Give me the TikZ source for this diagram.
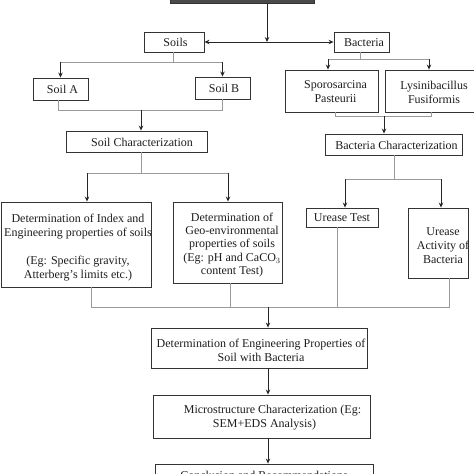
\documentclass[tikz,border=0pt]{standalone}
\usepackage{fontspec}
\setmainfont{Liberation Serif}
\usetikzlibrary{arrows.meta}
\definecolor{boxc}{HTML}{333333}
\definecolor{connc}{HTML}{9A9A9A}
\definecolor{textc}{HTML}{1E1E1E}
\definecolor{topc}{HTML}{4A4A4A}
\tikzset{
  box/.style={draw=boxc, line width=0.9pt, inner sep=0pt, fill=white},
  txt/.style={align=center, inner sep=0pt, text=textc, font=\fontsize{12}{14}\selectfont},
  conn/.style={draw=connc, line width=0.8pt},
  arr/.style={draw=black!85, line width=0.9pt, -{Stealth[length=5pt,width=4.5pt]}},
  darr/.style={draw=black!85, line width=0.9pt, {Stealth[length=5pt,width=4.5pt]}-{Stealth[length=5pt,width=4.5pt]}}
}
\begin{document}
\begin{tikzpicture}[x=1pt,y=-1pt]
\useasboundingbox (0,0) rectangle (474,474);
% boxes
\node[box, fill=topc, minimum width=144pt, minimum height=26pt] (top) at (242,-10) {};
\node[box, minimum width=60pt, minimum height=20pt] (soils) at (174,42) {};
\node[box, minimum width=55pt, minimum height=20pt] (bacteria) at (361.5,42) {};
\node[box, minimum width=55pt, minimum height=22pt] (soilA) at (60.5,89) {};
\node[box, minimum width=55pt, minimum height=22pt] (soilB) at (222.5,88) {};
\node[box, minimum width=93pt, minimum height=42pt] (spor) at (331.5,91) {};
\node[box, minimum width=91pt, minimum height=42pt] (lysin) at (430.5,91) {};
\node[box, minimum width=141pt, minimum height=21pt] (soilchar) at (136.5,141.5) {};
\node[box, minimum width=137pt, minimum height=21pt] (bactchar) at (393.5,144.5) {};
\node[box, minimum width=150pt, minimum height=85pt] (index) at (76,244.5) {};
\node[box, minimum width=109pt, minimum height=81pt] (geo) at (227.5,242.5) {};
\node[box, minimum width=72pt, minimum height=19pt] (urease) at (342,217.5) {};
\node[box, minimum width=60pt, minimum height=70pt] (ureact) at (438,243) {};
\node[box, minimum width=216pt, minimum height=40pt] (eng) at (259,348) {};
\node[box, minimum width=217pt, minimum height=43pt] (micro) at (261.5,416.5) {};
\node[box, minimum width=218pt, minimum height=40pt] (concl) at (264,484) {};
% texts
\node[txt] (soilsT) at (175.5,42.5) {Soils};
\node[txt] (bacteriaT) at (364,43) {Bacteria};
\node[txt] (soilAT) at (62.5,89.5) {Soil A};
\node[txt] (soilBT) at (224,88.5) {Soil B};
\node[txt] (sporT) at (335.5,92) {Sporosarcina\\Pasteurii};
\node[txt] (lysinT) at (434,92) {Lysinibacillus\\Fusiformis};
\node[txt] (soilcharT) at (142,142) {Soil Characterization};
\node[txt] (bactcharT) at (396.5,145) {Bacteria Characterization};
\node[txt] (indexT) at (78,248) {Determination of Index and\\Engineering properties of soils\\[14pt](Eg: Specific gravity,\\Atterberg's limits etc.)};
\node[txt, font=\fontsize{12}{13.3}\selectfont] (geoT) at (232,245) {Determination of\\Geo-environmental\\properties of soils\\(Eg: pH and CaCO$_3$\\content Test)};
\node[txt] (ureaseT) at (342,218) {Urease Test};
\node[txt] (ureactT) at (443,246) {Urease\\Activity of\\Bacteria};
\node[txt] (engT) at (261,350) {Determination of Engineering Properties of\\Soil with Bacteria};
\node[txt] (microT) at (264.5,418) {\hspace*{16pt}Microstructure Characterization (Eg:\\SEM+EDS Analysis)};
\node[txt, anchor=north] (conclT) at (264,471) {Conclusion and Recommendations};
% connectors
\coordinate (j1) at (267,42);
\draw[arr] (top.south -| j1) -- (j1);
\draw[darr] (soils.east) -- (bacteria.west);
% soils split
\coordinate (s1) at (173,62);
\draw[conn] (soils.south -| s1) -- (s1);
\draw[conn] (soilA.north |- s1) -- (soilB.north |- s1);
\draw[arr] (soilA.north |- s1) -- (soilA.north);
\draw[arr] (soilB.north |- s1) -- (soilB.north);
% soil A/B merge
\coordinate (s2) at (141,110);
\coordinate (s2a) at (58,110);
\draw[conn] (soilA.south -| s2a) -- (s2a) -- (soilB.south |- s2) -- (soilB.south);
\draw[arr] (s2) -- (soilchar.north -| s2);
% bacteria split
\coordinate (b1) at (360,59);
\coordinate (b1a) at (328,59);
\coordinate (b1b) at (429,59);
\draw[conn] (bacteria.south -| b1) -- (b1);
\draw[conn] (b1a) -- (b1b);
\draw[arr] (b1a) -- (spor.north -| b1a);
\draw[arr] (b1b) -- (lysin.north -| b1b);
% bacteria merge
\coordinate (b2) at (384,116);
\coordinate (b2a) at (335,116);
\coordinate (b2b) at (431,116);
\draw[conn] (spor.south -| b2a) -- (b2a) -- (b2b) -- (lysin.south -| b2b);
\draw[arr] (b2) -- (bactchar.north -| b2);
% bacteria characterization split
\coordinate (b3) at (394,179);
\coordinate (b3a) at (345,179);
\coordinate (b3b) at (441,179);
\draw[conn] (bactchar.south -| b3) -- (b3);
\draw[conn] (b3a) -- (b3b);
\draw[arr] (b3a) -- (urease.north -| b3a);
\draw[arr] (b3b) -- (ureact.north -| b3b);
% soil characterization split
\coordinate (s3) at (141,173);
\coordinate (s3a) at (87,173);
\coordinate (s3b) at (228,173);
\draw[conn] (soilchar.south -| s3) -- (s3);
\draw[conn] (s3a) -- (s3b);
\draw[arr] (s3a) -- (index.north -| s3a);
\draw[arr] (s3b) -- (geo.north -| s3b);
% bottom merge
\coordinate (m) at (268,307);
\coordinate (m1) at (91,307);
\coordinate (m2) at (230,307);
\coordinate (m3) at (337,307);
\coordinate (m4) at (449,307);
\draw[conn] (index.south -| m1) -- (m1) -- (m4) -- (ureact.south -| m4);
\draw[conn] (geo.south -| m2) -- (m2);
\draw[conn] (urease.south -| m3) -- (m3);
\draw[arr] (m) -- (eng.north -| m);
\draw[arr] (eng.south -| m) -- (micro.north -| m);
\draw[arr] (micro.south -| m) -- (concl.north -| m);
\end{tikzpicture}
\end{document}
